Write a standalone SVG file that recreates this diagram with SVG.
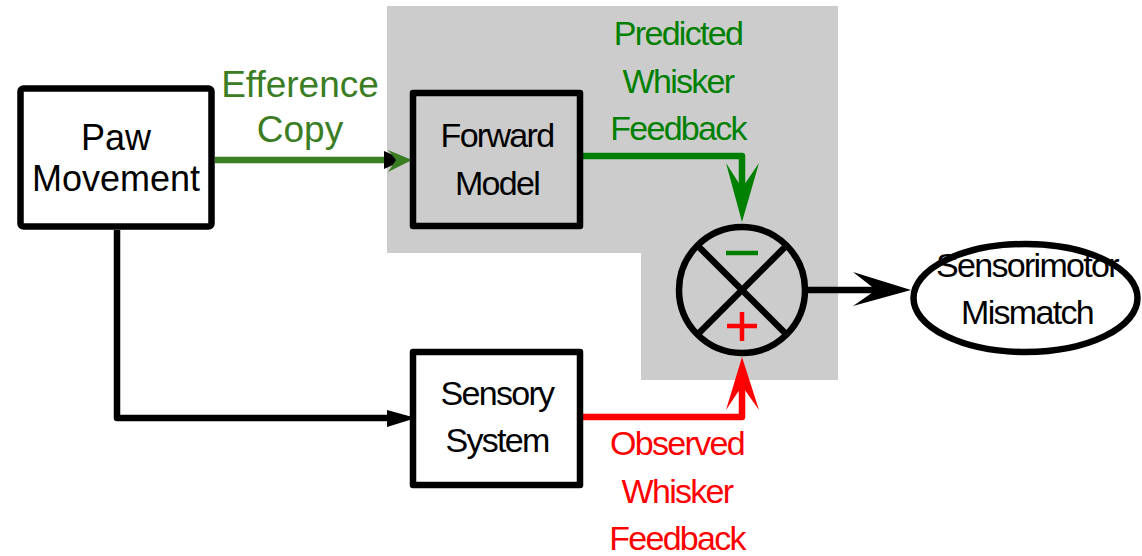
<svg xmlns="http://www.w3.org/2000/svg" width="1142" height="556" viewBox="0 0 1142 556">
<style>
.box{fill:#fff;stroke:#000;stroke-width:6.5;stroke-linejoin:round}
.t{font-family:"Liberation Sans",Arial,sans-serif;text-anchor:middle}
.n{font-size:36px;fill:#000}
.c{font-size:34px;letter-spacing:-1.7px}
.k{fill:#000}
.ln{fill:none;stroke-width:6.5;stroke-linejoin:round}
</style>
<rect width="1142" height="556" fill="#fff"/>
<path d="M387,6 H838 V380 H641 V253 H387 Z" fill="#cccccc"/>
<g id="connectors">
  <path class="ln" d="M215,160 H398" stroke="#3b7d23"/>
  <path d="M384,151 L404,160 L384,169 Z" fill="#000"/>
  <path d="M388,150 L412,160 L388,172 L396,160 Z" fill="#3b7d23"/>
  <path class="ln" d="M117,230 V418 H395" stroke="#000"/>
  <path d="M387,410 L416,418 L387,427 Z" fill="#000"/>
  <path class="ln" d="M580,156 H742 V195" stroke="#008000"/>
  <path d="M726,163 L742,222 L759,163 L742,188 Z" fill="#008000"/>
  <path class="ln" d="M580,417 H742 V380" stroke="#ff0000"/>
  <path d="M726,410 L742,357 L759,410 L742,386 Z" fill="#ff0000"/>
  <path class="ln" d="M808,290 H880" stroke="#000"/>
  <path d="M853,272 L911,290 L853,306 L876,290 Z" fill="#000"/>
</g>
<g id="paw-movement">
  <rect class="box" x="20.5" y="88.5" width="191" height="138" rx="3"/>
  <text class="t n" x="116" y="150">Paw</text>
  <text class="t n" x="116" y="191">Movement</text>
</g>
<g id="efference-copy-label">
  <text class="t" x="300" y="97" font-size="37" fill="#3b7d23">Efference</text>
  <text class="t" x="300" y="142" font-size="37" fill="#3b7d23">Copy</text>
</g>
<g id="forward-model">
  <rect class="box" x="413" y="93" width="167" height="133" style="fill:none"/>
  <text class="t c k" x="497" y="147">Forward</text>
  <text class="t c k" x="497" y="195">Model</text>
</g>
<g id="sensory-system">
  <rect class="box" x="413" y="352" width="167" height="133"/>
  <text class="t c k" x="497" y="405">Sensory</text>
  <text class="t c k" x="497" y="452">System</text>
</g>
<g id="predicted-label">
  <text class="t c" x="678" y="45" fill="#008000">Predicted</text>
  <text class="t c" x="678" y="93" fill="#008000">Whisker</text>
  <text class="t c" x="678" y="140" fill="#008000">Feedback</text>
</g>
<g id="observed-label">
  <text class="t c" x="677" y="455" fill="#ff0000">Observed</text>
  <text class="t c" x="677" y="503" fill="#ff0000">Whisker</text>
  <text class="t c" x="677" y="550" fill="#ff0000">Feedback</text>
</g>
<g id="comparator">
  <circle cx="742" cy="290" r="63" fill="none" stroke="#000" stroke-width="6.5"/>
  <path d="M697.5,245.5 L786.5,334.5 M786.5,245.5 L697.5,334.5" stroke="#000" stroke-width="6.5"/>
  <path d="M726,253 H758" stroke="#008000" stroke-width="4.5"/>
  <path d="M727,326 H757 M742,312 V341" stroke="#ff0000" stroke-width="4.5"/>
</g>
<g id="sensorimotor-mismatch">
  <ellipse cx="1025.5" cy="298" rx="112" ry="54" fill="#fff" stroke="#000" stroke-width="6.5"/>
  <text class="t c k" x="1027" y="277">Sensorimotor</text>
  <text class="t c k" x="1027" y="324">Mismatch</text>
</g>
</svg>
